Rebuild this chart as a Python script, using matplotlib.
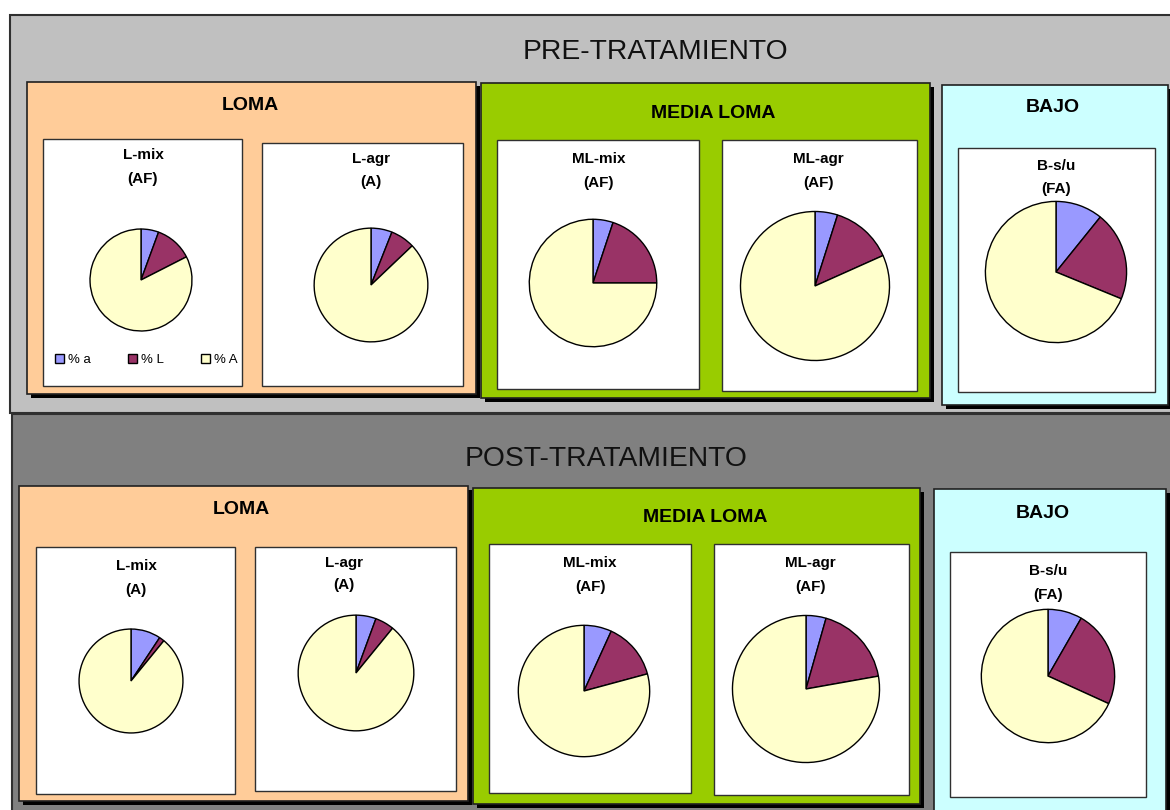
#!/usr/bin/env python3
# Pie charts of soil texture (% a, % L, % A) before and after treatment

import matplotlib
matplotlib.use('Agg')
import matplotlib.pyplot as plt
from matplotlib.patches import Rectangle

# ---------------------------------------------------------------- data
etiquetas = ['% a', '% L', '% A']
parcelas = ['L-mix', 'L-agr', 'ML-mix', 'ML-agr', 'B-s/u']
textura_pre = ['(AF)', '(A)', '(AF)', '(AF)', '(FA)']
textura_post = ['(A)', '(A)', '(AF)', '(AF)', '(FA)']

pct_a_pre = [5.6, 6.0, 5.1, 4.9, 10.8]
pct_L_pre = [11.9, 6.9, 19.9, 13.4, 20.4]
pct_A_pre = [82.5, 87.1, 75.0, 81.7, 68.8]

pct_a_post = [9.3, 5.6, 6.8, 4.4, 8.3]
pct_L_post = [1.6, 5.3, 14.0, 17.8, 23.5]
pct_A_post = [89.1, 89.1, 79.2, 77.8, 68.2]

grupos = ['LOMA', 'MEDIA LOMA', 'BAJO']
titulos = ['PRE-TRATAMIENTO', 'POST-TRATAMIENTO']

colores = ['#9999FF', '#993366', '#FFFFCC']
fondo_grupo = ['#FFCC99', '#99CC00', '#CCFFFF']

# ---------------------------------------------------------------- layout (pixels)
W, H = 1170, 810

# panel: (x0, y0, x1, y1), colour, title position
paneles = [((10, 15, 1180, 413), '#C0C0C0', (655, 52)),
           ((12, 414, 1180, 820), '#808080', (606, 459))]

# group boxes per panel: (x0, y0, x1, y1), title pos
cajas = [[((27, 82, 476, 394), (250, 105)),
          ((481, 83, 930, 398), (713, 113)),
          ((942, 85, 1168, 405), (1053, 108))],
         [((19, 486, 468, 801), (241, 509)),
          ((473, 488, 920, 804), (705, 517)),
          ((934, 489, 1166, 815), (1043, 513))]]

# chart boxes per panel: box, title x, title y1, y2, pie centre, radius
graficos = [[((43, 139, 242, 386), 143, 155, 179, (141, 280), 52),
             ((262, 143, 463, 386), 371, 159, 182, (371, 285), 58),
             ((497, 140, 699, 389), 599, 159, 183, (593, 283), 65),
             ((722, 140, 917, 391), 818, 159, 183, (815, 286), 76),
             ((958, 148, 1155, 392), 1056, 166, 189, (1056, 272), 72)],
            [((36, 547, 235, 794), 136, 566, 590, (131, 681), 53),
             ((255, 547, 456, 791), 344, 563, 585, (356, 673), 59),
             ((489, 544, 691, 793), 590, 563, 587, (584, 691), 67),
             ((714, 544, 909, 795), 810, 563, 587, (806, 689), 75),
             ((950, 552, 1146, 797), 1048, 571, 595, (1048, 676), 68)]]

plt.rcParams['font.family'] = ['Liberation Sans', 'DejaVu Sans']

fig = plt.figure(figsize=(W / 100, H / 100), dpi=100)
fig.patch.set_facecolor('white')
bg = fig.add_axes([0, 0, 1, 1])
bg.set_xlim(0, W)
bg.set_ylim(H, 0)
bg.axis('off')


def caja(x0, y0, x1, y1, color, sombra=True, lw=1.2, ec='#202020'):
    if sombra:
        bg.add_patch(Rectangle((x0 + 4, y0 + 4), x1 - x0, y1 - y0,
                               facecolor='black', edgecolor='none'))
    bg.add_patch(Rectangle((x0, y0), x1 - x0, y1 - y0, facecolor=color,
                           edgecolor=ec, linewidth=lw))


for p, ((x0, y0, x1, y1), col, (tx, ty)) in enumerate(paneles):
    caja(x0, y0, x1, y1, col, sombra=False, lw=1.5, ec='#303030')
    bg.text(tx, ty, titulos[p], ha='center', va='center', fontsize=20.3, color='#111111')

    for g, ((bx0, by0, bx1, by1), (gx, gy)) in enumerate(cajas[p]):
        caja(bx0, by0, bx1, by1, fondo_grupo[g])
        bg.text(gx, gy, grupos[g], ha='center', va='center', fontsize=14,
                fontweight='bold')

    textura = textura_pre if p == 0 else textura_post
    vals_a = pct_a_pre if p == 0 else pct_a_post
    vals_L = pct_L_pre if p == 0 else pct_L_post
    vals_A = pct_A_pre if p == 0 else pct_A_post

    for i, ((wx0, wy0, wx1, wy1), tx, ty1, ty2, (cx, cy), r) in enumerate(graficos[p]):
        caja(wx0, wy0, wx1, wy1, 'white', sombra=False, lw=1.0, ec='#303030')
        bg.text(tx, ty1, parcelas[i], ha='center', va='center', fontsize=11,
                fontweight='bold')
        bg.text(tx, ty2, textura[i], ha='center', va='center', fontsize=11,
                fontweight='bold')

        ax = fig.add_axes([(cx - r) / W, 1 - (cy + r) / H, 2 * r / W, 2 * r / H])
        wedges, _ = ax.pie([vals_a[i], vals_L[i], vals_A[i]], colors=colores,
                           startangle=90, counterclock=False, radius=1,
                           wedgeprops=dict(edgecolor='black', linewidth=1.0))
        ax.set_xlim(-1.02, 1.02)
        ax.set_ylim(-1.02, 1.02)
        ax.set_aspect('equal')
        ax.axis('off')

        if p == 0 and i == 0:
            fig.legend(wedges, etiquetas, loc='center',
                       bbox_to_anchor=(146 / W, 1 - 360 / H), ncol=3,
                       frameon=False, fontsize=9.5, handlelength=0.7,
                       handleheight=0.7, handletextpad=0.3, columnspacing=2.8)

fig.savefig('out.png', dpi=100)
